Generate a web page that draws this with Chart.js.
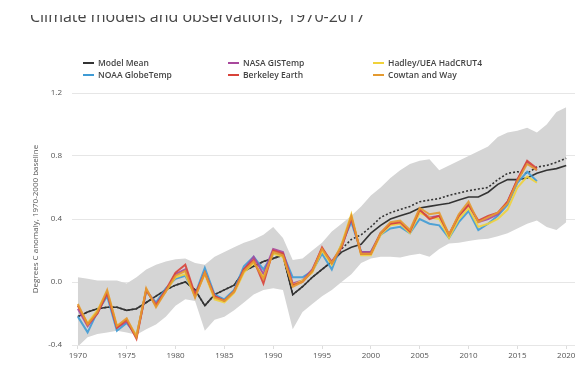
<!DOCTYPE html>
<html>
<head>
<meta charset="utf-8">
<script src="https://cdn.jsdelivr.net/npm/chart.js@4.4.1/dist/chart.umd.min.js"></script>
<style>
  html, body { margin: 0; padding: 0; background: #fff; }
  #wrap { position: relative; width: 580px; height: 373px; overflow: hidden; font-family: "Open Sans", "Noto Sans", sans-serif; }
  #c { position: absolute; left: 0; top: 0; }
  #titleClip { position: absolute; left: 0; top: 15px; width: 580px; height: 12px; overflow: hidden; }
  #title { position: absolute; left: 30px; top: -7px; font-size: 16px; line-height: 16px; color: #444; white-space: nowrap; }
  .lg { position: absolute; font-size: 8.5px; font-weight: 600; color: #444; white-space: nowrap; line-height: 10px; }
  .lg i { display: inline-block; width: 11px; height: 1.6px; vertical-align: middle; margin-right: 4px; position: relative; top: -1px; }
</style>
</head>
<body>
<div id="wrap">
  <canvas id="c" width="580" height="373"></canvas>
  <div id="titleClip"><div id="title">Climate models and observations, 1970-2017</div></div>
  <div id="legend"></div>
</div>
<script>
// ---- data ----
const obsYears = [1970,1971,1972,1973,1974,1975,1976,1977,1978,1979,1980,1981,1982,1983,1984,1985,1986,1987,1988,1989,1990,1991,1992,1993,1994,1995,1996,1997,1998,1999,2000,2001,2002,2003,2004,2005,2006,2007,2008,2009,2010,2011,2012,2013,2014,2015,2016,2017];
const modelYears = [1970,1971,1972,1973,1974,1975,1976,1977,1978,1979,1980,1981,1982,1983,1984,1985,1986,1987,1988,1989,1990,1991,1992,1993,1994,1995,1996,1997,1998,1999,2000,2001,2002,2003,2004,2005,2006,2007,2008,2009,2010,2011,2012,2013,2014,2015,2016,2017,2018,2019,2020];
const xTicks = [1970,1975,1980,1985,1990,1995,2000,2005,2010,2015,2020];
const yTicks = [-0.4,0.0,0.4,0.8,1.2];

const noaa = [-0.22,-0.32,-0.19,-0.09,-0.31,-0.26,-0.34,-0.06,-0.13,-0.04,0.02,0.04,-0.08,0.09,-0.08,-0.11,-0.05,0.10,0.16,0.08,0.18,0.18,0.03,0.03,0.07,0.18,0.08,0.24,0.38,0.19,0.19,0.30,0.34,0.35,0.31,0.40,0.37,0.36,0.28,0.38,0.45,0.33,0.37,0.42,0.49,0.63,0.70,0.64];
const nasa = [-0.17,-0.28,-0.20,-0.07,-0.29,-0.25,-0.35,-0.05,-0.14,-0.06,0.05,0.08,-0.09,0.06,-0.09,-0.12,-0.06,0.08,0.16,0.05,0.21,0.19,-0.01,0.01,0.08,0.21,0.13,0.22,0.40,0.19,0.19,0.31,0.37,0.37,0.32,0.45,0.41,0.42,0.30,0.42,0.49,0.38,0.40,0.43,0.51,0.65,0.76,0.71];
const hadley = [-0.15,-0.26,-0.18,-0.06,-0.28,-0.24,-0.34,-0.05,-0.15,-0.06,0.03,0.05,-0.09,0.05,-0.11,-0.13,-0.07,0.06,0.12,0.03,0.18,0.16,-0.02,0.01,0.06,0.20,0.11,0.24,0.43,0.17,0.17,0.30,0.36,0.37,0.31,0.44,0.41,0.40,0.28,0.40,0.47,0.35,0.37,0.40,0.46,0.60,0.67,0.63];
const berkeley = [-0.15,-0.27,-0.20,-0.07,-0.29,-0.24,-0.36,-0.05,-0.15,-0.05,0.06,0.11,-0.08,0.06,-0.09,-0.12,-0.06,0.08,0.14,-0.01,0.20,0.18,-0.02,0.00,0.07,0.22,0.12,0.22,0.41,0.18,0.18,0.31,0.37,0.38,0.32,0.46,0.40,0.42,0.30,0.42,0.49,0.39,0.42,0.44,0.51,0.65,0.77,0.72];
const cowtan = [-0.14,-0.27,-0.19,-0.05,-0.28,-0.23,-0.35,-0.04,-0.16,-0.06,0.04,0.07,-0.10,0.06,-0.10,-0.12,-0.06,0.07,0.13,0.02,0.19,0.17,-0.03,0.00,0.07,0.21,0.12,0.23,0.42,0.18,0.18,0.31,0.38,0.39,0.33,0.47,0.43,0.44,0.30,0.43,0.51,0.38,0.41,0.44,0.50,0.64,0.75,0.71];

const modelMean = [-0.22,-0.19,-0.17,-0.16,-0.16,-0.18,-0.17,-0.13,-0.09,-0.05,-0.02,0.00,-0.05,-0.15,-0.08,-0.05,-0.02,0.07,0.10,0.13,0.15,0.17,-0.08,-0.03,0.03,0.08,0.13,0.19,0.22,0.24,0.31,0.36,0.40,0.42,0.44,0.47,0.48,0.49,0.50,0.52,0.54,0.54,0.57,0.62,0.65,0.65,0.66,0.69,0.71,0.72,0.74];
const modelDotted = [-0.22,-0.19,-0.17,-0.16,-0.16,-0.18,-0.17,-0.13,-0.09,-0.05,-0.02,0.00,-0.05,-0.15,-0.08,-0.05,-0.02,0.07,0.10,0.13,0.15,0.17,-0.08,-0.03,0.03,0.08,0.13,0.21,0.27,0.30,0.35,0.41,0.44,0.46,0.48,0.51,0.52,0.53,0.55,0.565,0.58,0.59,0.60,0.65,0.69,0.70,0.69,0.73,0.74,0.76,0.785];
const bandUpper = [0.03,0.02,0.01,0.01,0.01,-0.01,0.03,0.08,0.11,0.13,0.145,0.15,0.12,0.11,0.16,0.19,0.22,0.25,0.27,0.30,0.35,0.28,0.14,0.15,0.20,0.25,0.32,0.37,0.42,0.48,0.55,0.60,0.66,0.71,0.75,0.77,0.78,0.71,0.74,0.77,0.80,0.83,0.86,0.92,0.95,0.96,0.98,0.95,1.00,1.08,1.11];
const bandLower = [-0.41,-0.35,-0.33,-0.32,-0.31,-0.32,-0.335,-0.30,-0.27,-0.22,-0.15,-0.11,-0.12,-0.31,-0.24,-0.22,-0.18,-0.13,-0.08,-0.05,-0.04,-0.05,-0.30,-0.19,-0.14,-0.09,-0.05,0.00,0.05,0.12,0.15,0.16,0.16,0.155,0.17,0.18,0.16,0.21,0.245,0.25,0.26,0.27,0.275,0.29,0.31,0.34,0.37,0.39,0.35,0.33,0.38];

const seriesNames = ["Model Mean","NOAA GlobeTemp","NASA GISTemp","Berkeley Earth","Hadley/UEA HadCRUT4","Cowtan and Way"];
const seriesColors = ["#333333","#3f9bd5","#a8489c","#d8433a","#f0d23a","#e49a30"];

// ---- helpers ----
const pts = (xs, ys) => ys.map((v, i) => ({x: xs[i], y: v}));

// ---- legend (HTML) ----
const legendPos = [[83,58],[83,70],[228,58],[228,70],[373,58],[373,70]];
const legendOrder = [0,1,2,3,4,5];
const lg = document.getElementById('legend');
legendOrder.forEach((k, i) => {
  const d = document.createElement('div');
  d.className = 'lg';
  d.style.left = legendPos[i][0] + 'px';
  d.style.top = legendPos[i][1] + 'px';
  d.innerHTML = '<i style="background:' + seriesColors[k] + '"></i>' + seriesNames[k];
  lg.appendChild(d);
});

const font = {family: '"Open Sans", "Noto Sans", sans-serif', size: 8};

const lineDs = (label, xs, ys, color, order, width, dash) => ({
  label, data: pts(xs, ys), borderColor: color, backgroundColor: color,
  borderWidth: width, borderDash: dash || [], pointRadius: 0, tension: 0, fill: false, order
});

new Chart(document.getElementById('c'), {
  type: 'line',
  data: {
    datasets: [
      {label: 'upper', data: pts(modelYears, bandUpper), borderWidth: 0, pointRadius: 0, fill: '+1', backgroundColor: '#d5d5d5', borderColor: 'rgba(0,0,0,0)', order: 20},
      {label: 'lower', data: pts(modelYears, bandLower), borderWidth: 0, pointRadius: 0, fill: false, borderColor: 'rgba(0,0,0,0)', order: 21},
      lineDs(seriesNames[0], modelYears, modelMean, seriesColors[0], 9, 1.6),
      lineDs(seriesNames[0] + ' (dotted)', modelYears, modelDotted, '#333333', 8, 1.6, [2, 2]),
      lineDs(seriesNames[1], obsYears, noaa, 'rgba(63,155,213,0.9)', 7, 2),
      lineDs(seriesNames[2], obsYears, nasa, 'rgba(168,72,156,0.9)', 6, 2),
      lineDs(seriesNames[4], obsYears, hadley, 'rgba(240,210,58,0.9)', 5, 2),
      lineDs(seriesNames[3], obsYears, berkeley, 'rgba(216,67,58,0.9)', 4, 2),
      lineDs(seriesNames[5], obsYears, cowtan, 'rgba(228,154,48,0.9)', 3, 2)
    ]
  },
  options: {
    responsive: false,
    animation: false,
    devicePixelRatio: 1,
    layout: {padding: {top: 93, left: 27, right: 5, bottom: 0}},
    plugins: {legend: {display: false}, tooltip: {enabled: false}, title: {display: false}},
    scales: {
      x: {
        type: 'linear', min: 1969.4, max: 2020.9,
        afterBuildTicks: s => { s.ticks = xTicks.map(v => ({value: v})); },
        afterFit: s => { s.height = 28; },
        ticks: {font, color: '#555', padding: 2, maxRotation: 0, callback: v => String(v)},
        grid: {drawOnChartArea: false, drawTicks: true, tickLength: 4, color: '#dddddd'},
        border: {display: false}
      },
      y: {
        min: -0.4, max: 1.2,
        afterBuildTicks: s => { s.ticks = yTicks.map(v => ({value: v})); },
        afterFit: s => { s.width = 45; },
        ticks: {font, color: '#555', padding: 10, callback: v => Number(v).toFixed(1)},
        grid: {color: '#e6e6e6', drawTicks: false, lineWidth: 1},
        border: {display: false},
        title: {display: true, text: 'Degrees C anomaly, 1970-2000 baseline', font, color: '#555', padding: {top: 4, bottom: 0}}
      }
    }
  }
});
</script>
</body>
</html>
